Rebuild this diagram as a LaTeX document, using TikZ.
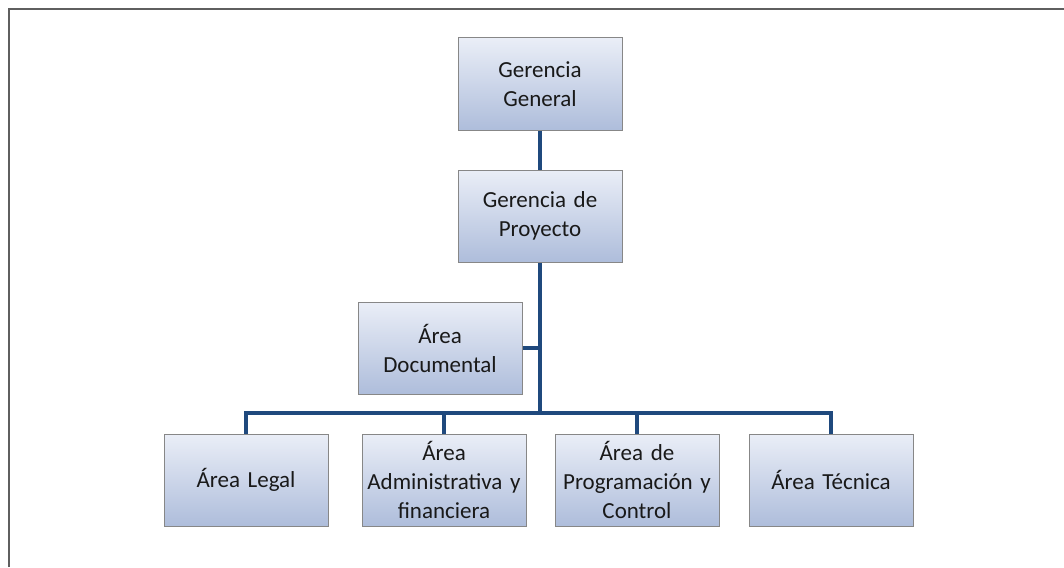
\documentclass[tikz,border=0pt]{standalone}
\usepackage{fontspec}
\setmainfont{Carlito}
\usetikzlibrary{positioning}

\definecolor{linkblue}{RGB}{31,73,125}
\definecolor{boxtop}{RGB}{234,238,247}
\definecolor{boxbottom}{RGB}{174,189,219}
\definecolor{boxline}{RGB}{135,135,135}
\definecolor{framegray}{RGB}{95,95,95}

\tikzset{
  orgbox/.style={draw=boxline, line width=1pt, top color=boxtop,
    bottom color=boxbottom, minimum width=164, minimum height=92,
    text width=162, inner sep=1pt, align=center, text=black!90,
    font=\fontsize{23}{29}\selectfont},
  link/.style={draw=linkblue, line width=4pt}
}

\begin{document}
\begin{tikzpicture}[x=1pt,y=-1pt]
  \useasboundingbox (0,0) rectangle (1064,567);
  \draw[framegray,line width=2pt] (9,567) -- (9,9) -- (1064,9);

  \node[orgbox] (gg) at (540,84) {Gerencia\\General};
  \node[orgbox] (gp) at (540,216) {Gerencia de\\Proyecto};
  \node[orgbox] (doc) at (440,348) {Área\\Documental};

  \node[orgbox] (legal) at (246,480) {Área Legal};
  \node[orgbox] (admin) at (444,480) {Área\\Administrativa y\\financiera};
  \node[orgbox] (prog) at (637,480) {Área de\\Programación y\\Control};
  \node[orgbox] (tec) at (831,480) {Área Técnica};

  \coordinate (bar) at (540,413);

  \draw[link] (gg) -- (gp);
  \draw[link] (gp) -- (bar);
  \draw[link] (doc.east) -- (doc.east -| bar);
  \draw[link] (legal.north) |- (bar) -| (tec.north);
  \draw[link] (admin.north) -- (admin.north |- bar);
  \draw[link] (prog.north) -- (prog.north |- bar);
\end{tikzpicture}
\end{document}
